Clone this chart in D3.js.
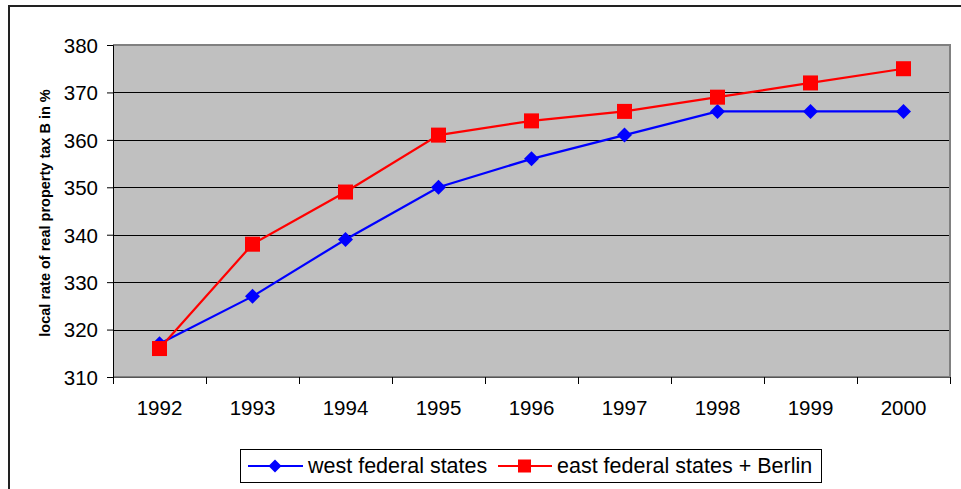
<!DOCTYPE html>
<html>
<head>
<meta charset="utf-8">
<title>Local rate of real property tax B</title>
<script src="https://d3js.org/d3.v7.min.js"></script>
<style>
  body { margin: 0; background: #fff; }
  svg text { font-family: "Liberation Sans", Arial, sans-serif; fill: #000; }
</style>
</head>
<body>
<svg id="chart" width="961" height="489"></svg>
<script>
// data
const years = ["1992", "1993", "1994", "1995", "1996", "1997", "1998", "1999", "2000"];
const west = [317, 327, 339, 350, 356, 361, 366, 366, 366];
const east = [316, 338, 349, 361, 364, 366, 369, 372, 375];
const yTicks = [310, 320, 330, 340, 350, 360, 370, 380];

const svg = d3.select("#chart");
const pLeft = 113, pRight = 950, pTop = 45, pBottom = 377;
const fs = "20.5px";

// outer chart frame (only top + left visible)
svg.append("path")
  .attr("d", "M9,489V6H961")
  .attr("fill", "none").attr("stroke", "#222").attr("stroke-width", 2);

const x = d3.scaleBand().domain(years).range([pLeft, pRight]);
const y = d3.scaleLinear().domain([310, 380]).range([pBottom, pTop]);

// plot area
svg.append("rect")
  .attr("x", pLeft).attr("y", pTop)
  .attr("width", pRight - pLeft).attr("height", pBottom - pTop)
  .attr("fill", "#c0c0c0");

// gridlines
svg.append("g").selectAll("line")
  .data(yTicks.slice(1, -1)).enter().append("line")
  .attr("x1", pLeft).attr("x2", pRight)
  .attr("y1", d => Math.round(y(d)) + 0.5).attr("y2", d => Math.round(y(d)) + 0.5)
  .attr("stroke", "#000").attr("stroke-width", 1);

// gray border top/right/bottom
svg.append("path")
  .attr("d", `M${pLeft},${pTop}H${pRight}V${pBottom}H${pLeft}`)
  .attr("fill", "none").attr("stroke", "#808080").attr("stroke-width", 2);

// y axis
const yAxis = svg.append("g")
  .attr("transform", `translate(${pLeft},0)`)
  .call(d3.axisLeft(y).tickValues(yTicks).tickSize(6).tickPadding(10));
yAxis.select(".domain").attr("stroke", "#000");
yAxis.selectAll(".tick line").attr("stroke", "#000");
yAxis.selectAll("text").style("font-size", fs).attr("dy", "0.36em").attr("x", -15);

// x axis, ticks between categories
const xAxis = svg.append("g")
  .attr("transform", `translate(0,${pBottom})`);
xAxis.append("line")
  .attr("x1", pLeft).attr("x2", pRight).attr("y1", 0.5).attr("y2", 0.5)
  .attr("stroke", "#555");
xAxis.selectAll(".tk").data(years.concat(["end"])).enter().append("line")
  .attr("x1", (d, i) => pLeft + i * x.bandwidth() + 0.5)
  .attr("x2", (d, i) => pLeft + i * x.bandwidth() + 0.5)
  .attr("y1", 0).attr("y2", 7)
  .attr("stroke", "#000");
xAxis.selectAll("text").data(years).enter().append("text")
  .attr("x", d => x(d) + x.bandwidth() / 2)
  .attr("y", 38)
  .attr("text-anchor", "middle")
  .style("font-size", fs)
  .text(d => d);

// y axis title
svg.append("text")
  .attr("transform", `translate(50,${(pTop + pBottom) / 2 + 2}) rotate(-90)`)
  .attr("text-anchor", "middle")
  .style("font-size", "14.5px").style("font-weight", "bold")
  .text("local rate of real property tax B in %");

const cx = d => x(d) + x.bandwidth() / 2;
const line = d3.line().x((d, i) => cx(years[i])).y(d => y(d));

// west series
svg.append("path").datum(west)
  .attr("d", line).attr("fill", "none")
  .attr("stroke", "#0000ff").attr("stroke-width", 2.2);
svg.append("g").selectAll("path").data(west).enter().append("path")
  .attr("d", "M0,-7.5L7.5,0L0,7.5L-7.5,0Z")
  .attr("transform", (d, i) => `translate(${cx(years[i])},${y(d)})`)
  .attr("fill", "#0000ff");

// east series
svg.append("path").datum(east)
  .attr("d", line).attr("fill", "none")
  .attr("stroke", "#ff0000").attr("stroke-width", 2.2);
svg.append("g").selectAll("rect").data(east).enter().append("rect")
  .attr("x", (d, i) => cx(years[i]) - 7.5)
  .attr("y", d => y(d) - 7.5)
  .attr("width", 15).attr("height", 15)
  .attr("fill", "#ff0000");

// legend
const lg = svg.append("g");
lg.append("rect")
  .attr("x", 240.5).attr("y", 449.5).attr("width", 581).attr("height", 33)
  .attr("fill", "#fff").attr("stroke", "#000");
lg.append("line").attr("x1", 248).attr("x2", 303).attr("y1", 466).attr("y2", 466)
  .attr("stroke", "#0000ff").attr("stroke-width", 2);
lg.append("path").attr("d", "M0,-6.5L6.5,0L0,6.5L-6.5,0Z")
  .attr("transform", "translate(275,466)").attr("fill", "#0000ff");
lg.append("text").attr("x", 308).attr("y", 473).style("font-size", "21.5px")
  .text("west federal states");
lg.append("line").attr("x1", 498).attr("x2", 552).attr("y1", 466).attr("y2", 466)
  .attr("stroke", "#ff0000").attr("stroke-width", 2);
lg.append("rect").attr("x", 518).attr("y", 459.5).attr("width", 13).attr("height", 13)
  .attr("fill", "#ff0000");
lg.append("text").attr("x", 557).attr("y", 473).style("font-size", "21.5px")
  .text("east federal states + Berlin");
</script>
</body>
</html>
